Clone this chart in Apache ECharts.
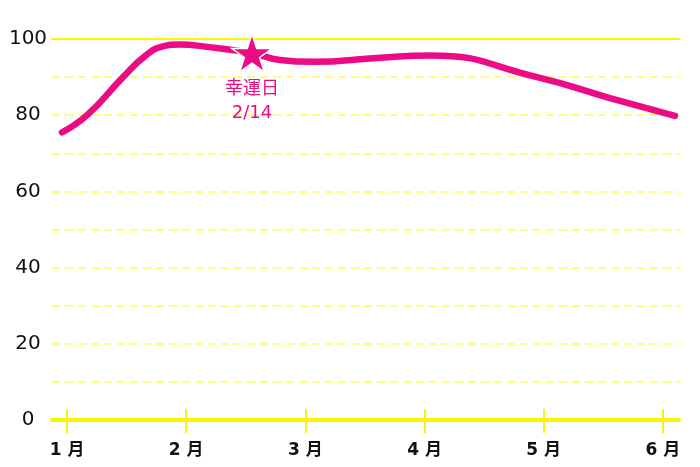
<!DOCTYPE html>
<html><head><meta charset="utf-8">
<script src="https://cdn.jsdelivr.net/npm/echarts@6/dist/echarts.min.js"></script>
<style>html,body{margin:0;padding:0;background:#fff}#c{width:700px;height:467px}</style>
</head><body><div id="c"></div>
<script>
const monthLabels = ['1 月','2 月','3 月','4 月','5 月','6 月'];
const monthPositions = [0,1,2,3,4,5];
const yTickLabels = [0,20,40,60,80,100];
// [month position, value]
const lineX = [-0.042, 0.168, 0.470, 0.654, 0.797, 0.948, 1.158, 1.552, 1.787, 2.064, 2.626, 3.045, 3.943, 4.555, 5.101];
const lineY = [75.5, 80.0, 90.0, 95.5, 98.0, 98.55, 98.0, 96.3, 94.5, 94.0, 95.1, 95.7, 90.0, 84.5, 79.8];
const luckyPoint = [1.552, 96.3];
const luckyLabel = '幸運日\n2/14';

const pink = '#ec0b84';
const yellow = '#f7f700';
const font = '"DejaVu Sans", "Noto Sans CJK JP", sans-serif';
const starPath = 'path://M50,0 L61.8,36.2 L100,36.2 L69.1,58.6 L80.9,95.1 L50,72.7 L19.1,95.1 L30.9,58.6 L0,36.2 L38.2,36.2 Z';

const chart = echarts.init(document.getElementById('c'));
chart.setOption({
  animation: false,
  grid: {left: 52, right: 21, top: 39, bottom: 47},
  xAxis: [
    {type: 'value', min: -0.126, max: 5.135, position: 'bottom',
     axisLine: {show: true, onZero: false, lineStyle: {color: yellow, width: 4}},
     axisTick: {show: true, customValues: monthPositions, length: 13, lineStyle: {color: yellow, width: 2}},
     axisLabel: {show: true, customValues: monthPositions, margin: 22,
       formatter: v => monthLabels[Math.round(v)], color: '#111', fontSize: 17, fontWeight: 'bold', fontFamily: font},
     splitLine: {show: false}},
    {type: 'value', min: -0.126, max: 5.135, position: 'bottom',
     axisLine: {show: false},
     axisTick: {show: true, inside: true, customValues: monthPositions, length: 11, lineStyle: {color: yellow, width: 2}},
     axisLabel: {show: false}, splitLine: {show: false}},
    {type: 'value', min: -0.126, max: 5.135, position: 'top',
     axisLine: {show: true, onZero: false, lineStyle: {color: yellow, width: 2}},
     axisTick: {show: false}, axisLabel: {show: false}, splitLine: {show: false}}
  ],
  yAxis: {type: 'value', min: 0, max: 100, interval: 10,
    axisLine: {show: false}, axisTick: {show: false},
    axisLabel: {margin: 24, align: 'center', color: '#111', fontSize: 20, fontFamily: font,
      formatter: v => yTickLabels.indexOf(v) >= 0 ? String(v) : ''},
    splitLine: {show: true, lineStyle: {color: '#ffff7a', width: 2, type: [8, 5]}}
  },
  series: [{
    type: 'line', smooth: 0.5, showSymbol: false, symbol: 'none',
    data: lineX.map((x, i) => [x, lineY[i]]),
    lineStyle: {color: pink, width: 6.5, cap: 'round', join: 'round'},
    markPoint: {
      symbol: starPath, symbolSize: [40, 38],
      itemStyle: {color: pink, borderColor: '#fff', borderWidth: 1.5},
      label: {show: true, position: 'bottom', distance: 5, formatter: luckyLabel,
        color: pink, fontSize: 18, lineHeight: 24, fontFamily: font, align: 'center'},
      data: [{coord: luckyPoint}]
    }
  }]
});
</script></body></html>
